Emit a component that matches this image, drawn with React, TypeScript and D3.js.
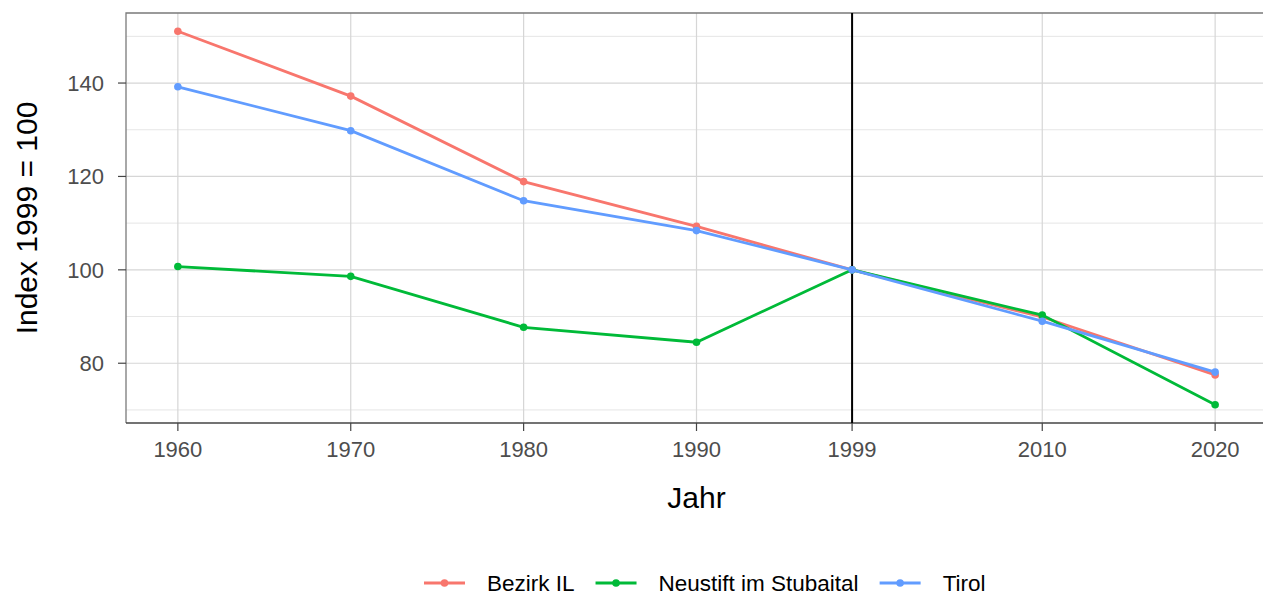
import { useEffect, useRef } from 'react';
import * as d3 from 'd3';

const years = [1960, 1970, 1980, 1990, 1999, 2010, 2020];
const seriesNames = ['Bezirk IL', 'Neustift im Stubaital', 'Tirol'];
const bezirkIL = [151.1, 137.2, 118.9, 109.3, 100, 89.9, 77.5];
const neustift = [100.7, 98.6, 87.7, 84.5, 100, 90.3, 71.1];
const tirol = [139.2, 129.8, 114.8, 108.4, 100, 89.0, 78.1];
const colors = ['#F8766D', '#00BA38', '#619CFF'];
const yMajor = [80, 100, 120, 140];
const yMinor = [70, 90, 110, 130, 150];
const refYear = 1999;

export default function App() {
  const svgRef = useRef<SVGSVGElement>(null);

  useEffect(() => {
    const width = 1263;
    const height = 596;
    const margin = { top: 13, right: -4, bottom: 173, left: 126 };

    const svg = d3.select(svgRef.current);
    svg.selectAll('*').remove();

    // continuous year axis, expanded by 5% like ggplot
    const x = d3.scaleLinear()
      .domain([1957, 2023])
      .range([margin.left, width - margin.right]);

    const y = d3.scaleLinear()
      .domain([67.2, 155])
      .range([height - margin.bottom, margin.top]);

    const font = 'Liberation Sans, Arial, sans-serif';
    const left = margin.left;
    const right = width - margin.right;
    const top = margin.top;
    const bottom = height - margin.bottom;

    // grid
    const grid = svg.append('g');
    yMinor.forEach(v => {
      grid.append('line')
        .attr('x1', left).attr('x2', right)
        .attr('y1', y(v)).attr('y2', y(v))
        .attr('stroke', '#e0e0e0').attr('stroke-width', 0.8);
    });
    yMajor.forEach(v => {
      grid.append('line')
        .attr('x1', left).attr('x2', right)
        .attr('y1', y(v)).attr('y2', y(v))
        .attr('stroke', '#d6d6d6').attr('stroke-width', 1.2);
    });
    years.forEach(yr => {
      grid.append('line')
        .attr('x1', x(yr)).attr('x2', x(yr))
        .attr('y1', top).attr('y2', bottom)
        .attr('stroke', '#d6d6d6').attr('stroke-width', 1.2);
    });

    // panel border
    svg.append('path')
      .attr('d', `M${right},${top}H${left}V${bottom}`)
      .attr('fill', 'none')
      .attr('stroke', '#7a7a7a')
      .attr('stroke-width', 1.3);
    svg.append('line')
      .attr('x1', left).attr('x2', right)
      .attr('y1', bottom).attr('y2', bottom)
      .attr('stroke', '#444').attr('stroke-width', 1.6);

    // reference year
    svg.append('line')
      .attr('x1', x(refYear)).attr('x2', x(refYear))
      .attr('y1', top).attr('y2', bottom)
      .attr('stroke', '#000').attr('stroke-width', 2);

    // axes ticks + labels
    years.forEach(yr => {
      svg.append('line')
        .attr('x1', x(yr)).attr('x2', x(yr))
        .attr('y1', bottom).attr('y2', bottom + 8)
        .attr('stroke', '#444').attr('stroke-width', 1.2);
      svg.append('text')
        .attr('x', x(yr)).attr('y', bottom + 34)
        .attr('text-anchor', 'middle')
        .attr('font-family', font).attr('font-size', 22)
        .attr('fill', '#4d4d4d')
        .text(yr);
    });
    yMajor.forEach(v => {
      svg.append('line')
        .attr('x1', left - 8).attr('x2', left)
        .attr('y1', y(v)).attr('y2', y(v))
        .attr('stroke', '#444').attr('stroke-width', 1.2);
      svg.append('text')
        .attr('x', left - 22).attr('y', y(v))
        .attr('dy', '0.36em')
        .attr('text-anchor', 'end')
        .attr('font-family', font).attr('font-size', 22)
        .attr('fill', '#4d4d4d')
        .text(v);
    });

    svg.append('text')
      .attr('x', (left + right) / 2).attr('y', 508)
      .attr('text-anchor', 'middle')
      .attr('font-family', font).attr('font-size', 30)
      .attr('fill', '#000')
      .text('Jahr');
    svg.append('text')
      .attr('transform', `translate(37,${(top + bottom) / 2}) rotate(-90)`)
      .attr('text-anchor', 'middle')
      .attr('font-family', font).attr('font-size', 30)
      .attr('fill', '#000')
      .text('Index 1999 = 100');

    // series
    const allSeries = [bezirkIL, neustift, tirol];
    const line = d3.line<number>()
      .x((_, i) => x(years[i]))
      .y(d => y(d));

    allSeries.forEach((vals, si) => {
      svg.append('path')
        .datum(vals)
        .attr('fill', 'none')
        .attr('stroke', colors[si])
        .attr('stroke-width', 2.8)
        .attr('d', line);
      svg.append('g')
        .selectAll('circle')
        .data(vals)
        .join('circle')
        .attr('cx', (_, i) => x(years[i]))
        .attr('cy', d => y(d))
        .attr('r', 3.8)
        .attr('fill', colors[si]);
    });

    // legend (kept just inside the bottom edge)
    const legendY = 583;
    const legend = svg.append('g').attr('font-family', font).attr('font-size', 22.5);
    let cx = 424;
    seriesNames.forEach((name, si) => {
      legend.append('line')
        .attr('x1', cx).attr('x2', cx + 41)
        .attr('y1', legendY).attr('y2', legendY)
        .attr('stroke', colors[si]).attr('stroke-width', 2.8);
      legend.append('circle')
        .attr('cx', cx + 20.5).attr('cy', legendY).attr('r', 3.8)
        .attr('fill', colors[si]);
      const t = legend.append('text')
        .attr('x', cx + 63).attr('y', legendY)
        .attr('dy', '0.36em')
        .attr('fill', '#000')
        .text(name);
      const w = (t.node() as SVGTextElement).getComputedTextLength();
      cx = cx + 63 + w + 21;
    });
  }, []);

  return (
    <svg
      ref={svgRef}
      width={1263}
      height={596}
      style={{ position: 'absolute', left: 0, top: 0, display: 'block', background: '#fff' }}
    />
  );
}
